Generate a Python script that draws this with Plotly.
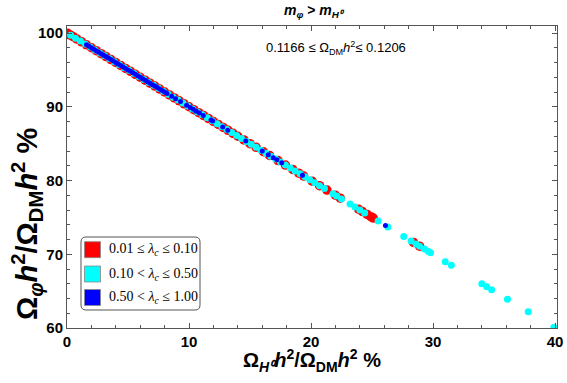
import plotly.graph_objects as go

# ---------------- data ----------------
red_x = [0.05, 0.15, 0.3, 0.5, 0.8, 1.2, 1.6, 2.0, 2.4, 2.8, 3.2, 3.6, 4.0, 4.4, 4.8,
         5.2, 5.6, 6.0, 6.4, 6.8, 7.2, 7.6, 8.0, 8.4, 8.8, 9.2, 9.6, 10.0, 10.4, 10.8,
         11.2, 11.6, 12.0, 12.4, 12.8, 13.2, 13.6, 14.0, 14.5, 15.0, 15.5, 16.1, 16.6,
         17.3, 17.9, 18.5, 19.0, 19.4, 20.1, 20.7, 21.3, 22.0, 22.4, 23.9, 24.2, 24.6,
         24.9, 25.1, 28.4, 28.9]
red_y = [99.95, 99.8, 99.7, 99.5, 99.2, 98.8, 98.4, 98.0, 97.6, 97.2, 96.8, 96.4, 96.0, 95.6, 95.2,
         94.8, 94.4, 94.0, 93.6, 93.2, 92.8, 92.4, 92.0, 91.6, 91.2, 90.8, 90.4, 90.0, 89.6, 89.2,
         88.8, 88.4, 88.0, 87.6, 87.2, 86.8, 86.4, 86.0, 85.5, 85.0, 84.5, 83.9, 83.4,
         82.7, 82.1, 81.5, 81.0, 80.6, 79.9, 79.3, 78.7, 78.0, 77.6, 76.1, 75.8, 75.4,
         75.1, 74.9, 71.6, 71.1]

cyan_x = [0.3, 0.7, 1.1, 1.5, 1.9, 2.3, 2.7, 3.1, 3.5, 3.9, 4.3, 4.7, 5.1, 5.5, 5.9,
          6.3, 6.7, 7.1, 7.5, 7.9, 8.3, 8.7, 9.1, 9.5, 9.9, 10.3, 10.7, 11.1, 11.5, 11.9,
          12.3, 12.7, 13.1, 13.5, 13.9, 14.3, 14.7, 15.1, 15.5, 15.9, 16.3, 16.7, 17.1,
          17.5, 17.9, 18.3, 18.7, 19.1, 19.5, 19.9, 20.3, 20.7, 21.1,
          21.8, 22.1, 22.5, 23.2, 23.6, 24.0, 24.4, 25.5, 26.3, 27.6, 28.2, 28.6, 28.9,
          29.3, 29.6, 29.8, 31.0, 31.5, 34.0, 34.4, 34.8, 36.1, 37.8, 39.9]
cyan_y = [99.7, 99.3, 98.9, 98.5, 98.1, 97.7, 97.3, 96.9, 96.5, 96.1, 95.7, 95.3, 94.9, 94.5, 94.1,
          93.7, 93.3, 92.9, 92.5, 92.1, 91.7, 91.3, 90.9, 90.5, 90.1, 89.7, 89.3, 88.9, 88.5, 88.1,
          87.7, 87.3, 86.9, 86.5, 86.1, 85.7, 85.3, 84.9, 84.5, 84.1, 83.7, 83.3, 82.9,
          82.5, 82.1, 81.7, 81.3, 80.9, 80.5, 80.1, 79.7, 79.3, 78.9,
          78.2, 77.9, 77.5, 76.8, 76.4, 76.0, 75.6, 74.5, 73.7, 72.4, 71.8, 71.4, 71.1,
          70.7, 70.4, 70.2, 69.0, 68.5, 66.0, 65.6, 65.2, 63.9, 62.2, 60.1]

blue_x = [1.6, 1.8, 2.0, 2.2, 2.4, 2.6, 2.8, 3.0, 3.2, 3.4, 3.6, 3.8, 4.0, 4.2, 4.4,
          4.6, 4.8, 5.0, 5.2, 5.4, 5.6, 5.8, 6.0, 6.2, 6.4, 6.6, 6.8, 7.0, 7.2, 7.4,
          7.6, 7.8, 8.0, 8.2, 8.58, 8.9, 9.3, 9.8, 10.1, 10.35, 10.6,
          10.85, 11.17, 11.8, 11.94, 12.76, 13.17, 14.65, 16.0, 16.5, 16.9, 17.2, 17.6,
          19.3, 26.1]
blue_y = [98.4, 98.2, 98.0, 97.8, 97.6, 97.4, 97.2, 97.0, 96.8, 96.6, 96.4, 96.2, 96.0, 95.8, 95.6,
          95.4, 95.2, 95.0, 94.8, 94.6, 94.4, 94.2, 94.0, 93.8, 93.6, 93.4, 93.2, 93.0, 92.8, 92.6,
          92.4, 92.2, 92.0, 91.8, 91.42, 91.1, 90.7, 90.2, 89.9, 89.65, 89.4,
          89.15, 88.83, 88.2, 88.06, 87.24, 86.83, 85.35, 84.0, 83.5, 83.1, 82.8, 82.4,
          80.7, 73.9]

legend_labels = ["0.01 ≤ <i>λ<sub>c</sub></i> ≤ 0.10",
                 "0.10 < <i>λ<sub>c</sub></i> ≤ 0.50",
                 "0.50 < <i>λ<sub>c</sub></i> ≤ 1.00"]
series_colors = ["#ff0000", "#00ffff", "#0000ff"]

x_ticks = [0, 10, 20, 30, 40]
y_ticks = [60, 70, 80, 90, 100]

# ---------------- layout helpers ----------------
W, H = 567, 383
L, R, T, B = 67, 557, 26, 328


def px(x, y):
    return (x - L) / (R - L), (B - y) / (B - T)


fig = go.Figure()
fig.add_trace(go.Scatter(x=red_x, y=red_y, mode="markers", showlegend=False,
                         marker=dict(color=series_colors[0], size=9.5, line=dict(width=0))))
fig.add_trace(go.Scatter(x=cyan_x, y=cyan_y, mode="markers", showlegend=False,
                         marker=dict(color=series_colors[1], size=7, line=dict(width=0))))
fig.add_trace(go.Scatter(x=blue_x, y=blue_y, mode="markers", showlegend=False,
                         marker=dict(color=series_colors[2], size=5, line=dict(width=0))))

axis_common = dict(
    showgrid=False, zeroline=False, showline=True, linecolor="#555555", linewidth=1,
    mirror="allticks", ticks="inside", ticklen=5, tickcolor="#555555", automargin=False,
    tickfont=dict(family="Liberation Sans", size=15, color="black", weight="bold"),
)
fig.update_xaxes(range=[0, 40.16], tickvals=x_ticks, ticktext=[str(v) for v in x_ticks],
                 minor=dict(dtick=2, ticks="inside", ticklen=3, tickcolor="#555555"),
                 **axis_common)
fig.update_yaxes(range=[60, 100.95], tickvals=y_ticks, ticktext=[str(v) for v in y_ticks],
                 minor=dict(dtick=2, ticks="inside", ticklen=3, tickcolor="#555555"),
                 **axis_common)

shapes = []
annotations = []


def P(x, y):
    a, b = px(x, y)
    return f"{a:.5f},{b:.5f}"


# legend box with rounded corners
bx0, by0, bx1, by1, r = 81, 237, 200, 310, 5
path = (f"M {P(bx0 + r, by0)} L {P(bx1 - r, by0)} Q {P(bx1, by0)} {P(bx1, by0 + r)} "
        f"L {P(bx1, by1 - r)} Q {P(bx1, by1)} {P(bx1 - r, by1)} "
        f"L {P(bx0 + r, by1)} Q {P(bx0, by1)} {P(bx0, by1 - r)} "
        f"L {P(bx0, by0 + r)} Q {P(bx0, by0)} {P(bx0 + r, by0)} Z")
shapes.append(dict(type="path", xref="paper", yref="paper", path=path,
                   line=dict(color="#555555", width=1), fillcolor="white", layer="above"))

row_centers = [249.7, 274, 297.5]
for lab, col, cy in zip(legend_labels, series_colors, row_centers):
    x0, y0 = px(84.5, cy - 8)
    x1, y1 = px(100.5, cy + 8)
    shapes.append(dict(type="rect", xref="paper", yref="paper", x0=x0, x1=x1, y0=y1, y1=y0,
                       fillcolor=col, line=dict(color="#888888", width=0.8), layer="above"))
    tx, ty = px(107, cy)
    annotations.append(dict(xref="paper", yref="paper", x=tx, y=ty, xanchor="left",
                            yanchor="middle", showarrow=False, text=lab,
                            font=dict(family="Liberation Serif", size=14, color="black")))

# title
tx, ty = px(314, 11)
annotations.append(dict(xref="paper", yref="paper", x=tx, y=ty, xanchor="center", yanchor="middle",
                        showarrow=False,
                        text="<b><i>m<sub>φ</sub></i> > <i>m<sub>H⁰</sub></i></b>",
                        font=dict(family="Liberation Sans", size=14, color="black")))
# relic density annotation
tx, ty = px(336, 48)
annotations.append(dict(xref="paper", yref="paper", x=tx, y=ty, xanchor="center", yanchor="middle",
                        showarrow=False,
                        text="0.1166 ≤ Ω<sub>DM</sub><i>h</i><sup>2</sup>≤ 0.1206",
                        font=dict(family="Liberation Sans", size=13, color="black")))
# x axis title
tx, ty = px(311.5, 360)
annotations.append(dict(xref="paper", yref="paper", x=tx, y=ty, xanchor="center", yanchor="middle",
                        showarrow=False,
                        text="<b>Ω<sub><i>H⁰</i></sub><i>h</i><sup>2</sup>/Ω<sub>DM</sub><i>h</i><sup>2</sup> %</b>",
                        font=dict(family="Liberation Sans", size=20, color="black")))
# y axis title
tx, ty = px(27, 224)
annotations.append(dict(xref="paper", yref="paper", x=tx, y=ty, xanchor="center", yanchor="middle",
                        showarrow=False, textangle=-90,
                        text="<b>Ω<sub><i>φ</i></sub><i>h</i><sup>2</sup>/Ω<sub>DM</sub><i>h</i><sup>2</sup> %</b>",
                        font=dict(family="Liberation Sans", size=29, color="black")))

fig.update_layout(
    width=W, height=H,
    margin=dict(l=L, r=W - R, t=T, b=H - B, pad=0, autoexpand=False),
    plot_bgcolor="white", paper_bgcolor="white",
    showlegend=False,
    shapes=shapes, annotations=annotations,
)

fig.write_html("out.html", config={"displayModeBar": False},
               post_script="document.body.style.margin='0';document.body.style.padding='0';")
